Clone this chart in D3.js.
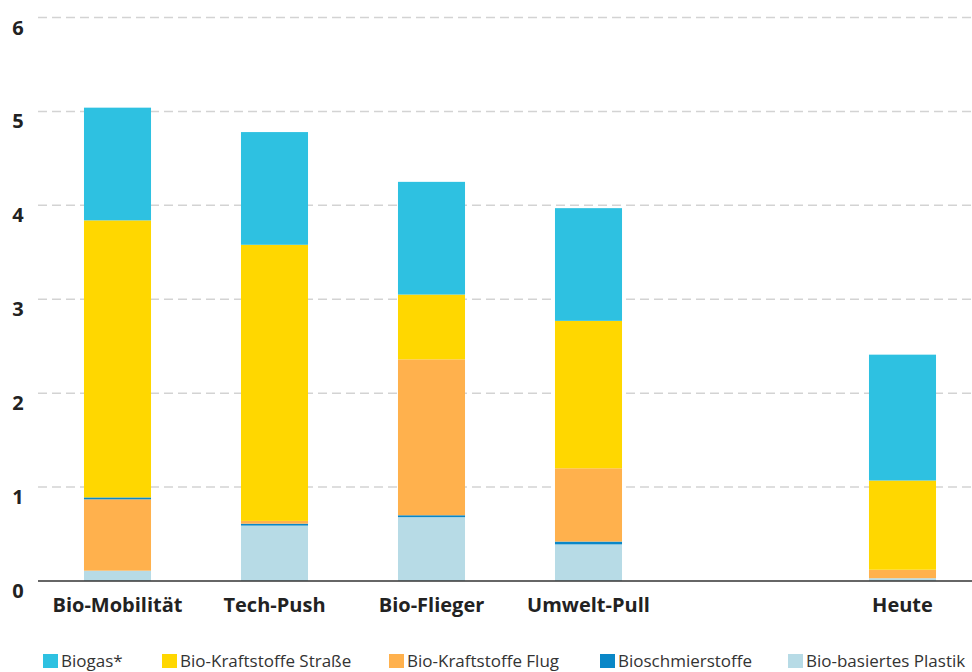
<!DOCTYPE html>
<html><head><meta charset="utf-8">
<script src="https://cdn.jsdelivr.net/npm/d3@7"></script>
<style>body{margin:0;background:#fff}svg{display:block}</style>
</head><body>
<svg id="c" width="972" height="672"></svg>
<script>
const categories = ["Bio-Mobilität","Tech-Push","Bio-Flieger","Umwelt-Pull","","Heute"];
const seriesNames = ["Bio-basiertes Plastik","Bioschmierstoffe","Bio-Kraftstoffe Flug","Bio-Kraftstoffe Straße","Biogas*"];
const plastik   = [0.11, 0.59, 0.68, 0.39, null, 0.03];
const schmier   = [0.02, 0.02, 0.02, 0.03, null, 0.00];
const flug      = [0.76, 0.03, 1.66, 0.78, null, 0.09];
const strasse   = [2.95, 2.94, 0.69, 1.57, null, 0.95];
const biogas    = [1.20, 1.20, 1.20, 1.20, null, 1.34];
// stacking order from bottom, per category (the source stacks Bio-Mobilität differently)
const stackOrders = [
  ["Bio-basiertes Plastik","Bio-Kraftstoffe Flug","Bioschmierstoffe","Bio-Kraftstoffe Straße","Biogas*"],
  seriesNames, seriesNames, seriesNames, seriesNames, seriesNames];
const yTicks = [0,1,2,3,4,5,6];
const legendOrder = ["Biogas*","Bio-Kraftstoffe Straße","Bio-Kraftstoffe Flug","Bioschmierstoffe","Bio-basiertes Plastik"];
const colors = {"Biogas*":"#2ec1e1","Bio-Kraftstoffe Straße":"#ffd700","Bio-Kraftstoffe Flug":"#ffb14d","Bioschmierstoffe":"#0a87c7","Bio-basiertes Plastik":"#b7dbe6"};

const svg = d3.select("#c");
const x = d3.scaleBand().domain(categories).range([39,981]).paddingInner(0.573).paddingOuter(0.2865);
const y = d3.scaleLinear().domain([0,6]).range([581,17.5]);

const valueArrays = {"Bio-basiertes Plastik":plastik,"Bioschmierstoffe":schmier,
  "Bio-Kraftstoffe Flug":flug,"Bio-Kraftstoffe Straße":strasse,"Biogas*":biogas};
const segs = [];
categories.forEach((c,i)=>{
  if(c==="") return;
  let acc = 0;
  stackOrders[i].forEach(k=>{
    const v = valueArrays[k][i]||0;
    if(v>0) segs.push({cat:c,key:k,y0:acc,y1:acc+v});
    acc += v;
  });
});

// grid
svg.append("g").selectAll("line").data(yTicks.filter(t=>t>0)).join("line")
  .attr("x1",38).attr("x2",972).attr("y1",d=>y(d)).attr("y2",d=>y(d))
  .attr("stroke","#d3d3d3").attr("stroke-width",1.5).attr("stroke-dasharray","9,5");

// y labels
svg.append("g").selectAll("text").data(yTicks).join("text")
  .attr("x",18).attr("y",d=>y(d)+17).attr("text-anchor","middle")
  .attr("font-family","'Open Sans', sans-serif").attr("font-weight","bold").attr("font-size",20)
  .attr("fill","#222").text(d=>d);

// bars
svg.append("g").selectAll("rect").data(segs).join("rect")
  .attr("fill",d=>colors[d.key])
  .attr("x",d=>x(d.cat)).attr("width",x.bandwidth())
  .attr("y",d=>y(d.y1)).attr("height",d=>y(d.y0)-y(d.y1));

// axis line
svg.append("line").attr("x1",38).attr("x2",972).attr("y1",581).attr("y2",581)
  .attr("stroke","#333").attr("stroke-width",1.5);

// x labels
svg.append("g").selectAll("text").data(categories.filter(c=>c!=="")).join("text")
  .attr("x",d=>x(d)+x.bandwidth()/2).attr("y",612).attr("text-anchor","middle")
  .attr("font-family","'Open Sans', sans-serif").attr("font-weight","bold").attr("font-size",20)
  .attr("fill","#222").text(d=>d);

// legend
const legX = [43,162,389,600,788];
const lg = svg.append("g").selectAll("g").data(legendOrder).join("g")
  .attr("transform",(d,i)=>`translate(${legX[i]},0)`);
lg.append("rect").attr("x",0).attr("y",654).attr("width",15).attr("height",14).attr("fill",d=>colors[d]);
lg.append("text").attr("x",18).attr("y",667)
  .attr("font-family","'Open Sans', sans-serif").attr("font-size",17).attr("fill","#333").text(d=>d);
</script>
</body></html>
